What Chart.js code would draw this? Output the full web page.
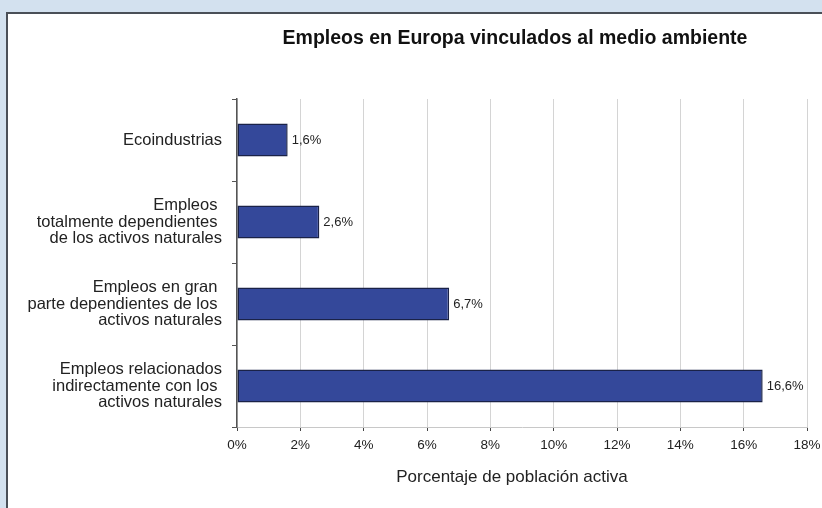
<!DOCTYPE html>
<html>
<head>
<meta charset="utf-8">
<script src="https://cdn.jsdelivr.net/npm/chart.js@4/dist/chart.umd.min.js"></script>
<style>
  html, body { margin: 0; padding: 0; background: #d3e1ef; }
  #panel {
    position: absolute; left: 6px; top: 12px; width: 816px; height: 496px;
    background: #fff; border-top: 2px solid #4a4f57; border-left: 2px solid #4a4f57;
    box-sizing: border-box;
  }
  #chart { display: block; }
</style>
</head>
<body>
<div id="panel"><canvas id="chart" width="814" height="494"></canvas></div>
<script>
// datos
const categories = [
  ['Ecoindustrias'],
  ['Empleos ', 'totalmente dependientes ', 'de los activos naturales'],
  ['Empleos en gran ', 'parte dependientes de los ', 'activos naturales'],
  ['Empleos relacionados', 'indirectamente con los ', 'activos naturales']
];
const values = [1.6, 2.6, 6.7, 16.6];
const valueLabels = ['1,6%', '2,6%', '6,7%', '16,6%'];
const xTicks = [0, 2, 4, 6, 8, 10, 12, 14, 16, 18];

const titleText = 'Empleos en Europa vinculados al medio ambiente';
const axisTitle = 'Porcentaje de población activa';
const FONT = '"Liberation Sans", Arial, Helvetica, sans-serif';

// titulo y etiqueta del eje
const textPlugin = {
  id: 'texts',
  afterDraw(chart) {
    const { ctx, chartArea } = chart;
    const cx = (chartArea.left + chartArea.right) / 2;
    ctx.save();
    ctx.fillStyle = '#111';
    ctx.textAlign = 'center';
    ctx.textBaseline = 'middle';
    ctx.font = 'bold 19.5px ' + FONT;
    ctx.fillText(titleText, cx - 7, 25);
    ctx.font = '17px ' + FONT;
    ctx.fillStyle = '#222';
    ctx.fillText(axisTitle, cx - 10, 463);
    ctx.restore();
  }
};

// valores al final de cada barra
const valuePlugin = {
  id: 'values',
  afterDatasetsDraw(chart) {
    const { ctx } = chart;
    const meta = chart.getDatasetMeta(0);
    ctx.save();
    ctx.fillStyle = '#222';
    ctx.font = '13px ' + FONT;
    ctx.textAlign = 'left';
    ctx.textBaseline = 'middle';
    meta.data.forEach((bar, i) => {
      ctx.fillText(valueLabels[i], bar.x + 4, bar.y);
    });
    ctx.restore();
  }
};

new Chart(document.getElementById('chart'), {
  type: 'bar',
  data: {
    labels: categories,
    datasets: [{
      data: values,
      backgroundColor: '#34489a',
      borderColor: '#1a2248',
      borderWidth: 1.5,
      borderSkipped: false,
      barPercentage: 0.40,
      categoryPercentage: 1
    }]
  },
  options: {
    indexAxis: 'y',
    responsive: false,
    animation: false,
    layout: { padding: { top: 85, right: 15, left: 0, bottom: 0 } },
    plugins: { legend: { display: false }, tooltip: { enabled: false } },
    scales: {
      x: {
        min: 0, max: 18,
        afterBuildTicks(scale) { scale.ticks = xTicks.map(v => ({ value: v })); },
        afterFit(scale) {
          scale.height = 81;
          scale.paddingLeft = 0;
          scale.paddingRight = 0;
        },
        ticks: {
          callback: v => v + '%',
          color: '#222',
          font: { family: FONT, size: 13.5 },
          padding: 6,
          maxRotation: 0
        },
        grid: { color: '#d4d4d4', tickColor: '#444', tickLength: 4, lineWidth: 1 },
        border: { color: '#c8c8c8', display: true }
      },
      y: {
        afterFit(scale) { scale.width = 229; },
        ticks: {
          color: '#222',
          font: { family: FONT, size: 16.5, lineHeight: 1.0 },
          padding: 10
        },
        grid: { drawOnChartArea: false, offset: true, tickColor: '#555', tickLength: 5 },
        border: { color: '#555', width: 1.5 }
      }
    }
  },
  plugins: [textPlugin, valuePlugin]
});
</script>
</body>
</html>
